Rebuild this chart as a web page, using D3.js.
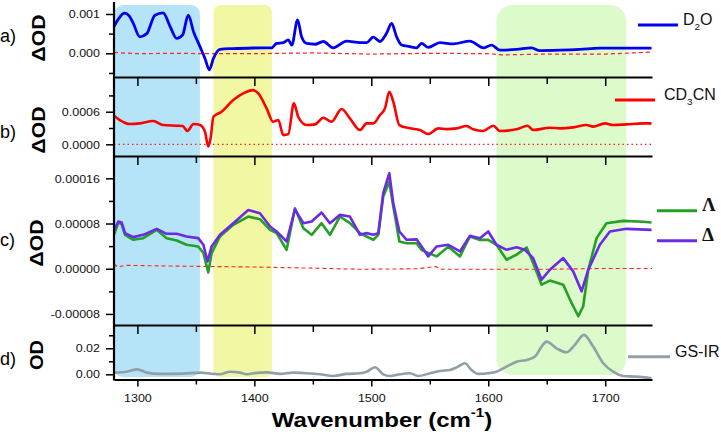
<!DOCTYPE html>
<html><head><meta charset="utf-8">
<script src="https://cdn.jsdelivr.net/npm/d3@7"></script>
<style>
body{margin:0;background:#fff;}
</style></head>
<body><svg id="c" width="721" height="437" font-family="Liberation Sans, Arial, sans-serif"></svg>
<script>
// ---------- data ----------
const xTicks = [1300, 1400, 1500, 1600, 1700];
const xMinorTicks = [1350, 1450, 1550, 1650];
const panelLabels = ["a)", "b)", "c)", "d)"];
const yTitles = ["ΔOD", "ΔOD", "ΔOD", "OD"];
const aTicks = [0.000, 0.001], aMinor = [-0.0005, 0.0005];
const bTicks = [0.0000, 0.0006], bMinor = [0.0003, 0.0009];
const cTicks = [-0.00008, 0.00000, 0.00008, 0.00016], cMinor = [-0.00004, 0.00004, 0.00012];
const dTicks = [0.00, 0.02], dMinor = [0.01, 0.03];
const aTickLabels = ["0.000", "0.001"];
const bTickLabels = ["0.0000", "0.0006"];
const cTickLabels = ["-0.00008", "0.00000", "0.00008", "0.00016"];
const dTickLabels = ["0.00", "0.02"];
const regions = [[1280, 1353.5], [1365, 1415], [1607, 1718]];

const d2o = [[1280,0.00068],[1284,0.00088],[1289,0.00102],[1293,0.00095],[1296.5,0.00076],[1302,0.00042],[1308,0.0005],[1315,0.00097],[1322,0.00103],[1328,0.00068],[1333.6,0.00038],[1338.7,0.00047],[1343.5,0.00097],[1348,0.00055],[1353.5,0.00017],[1357.8,-0.00013],[1361.5,-0.00042],[1365,-0.00013],[1370.6,0.0001],[1382,0.00012],[1399,0.000135],[1414.8,0.00014],[1419,0.00025],[1424.7,0.00027],[1429,0.00034],[1432,0.00021],[1437,0.00085],[1440.4,0.00042],[1444.7,0.00025],[1451.8,0.00023],[1459,0.0003],[1467.5,0.00014],[1478.9,0.00031],[1490.3,0.00027],[1496,0.00027],[1501.7,0.00041],[1507.4,0.0003],[1513,0.00051],[1517.4,0.00076],[1521.6,0.00042],[1525.9,0.00021],[1533,0.00017],[1538.7,0.00014],[1543,0.00025],[1548.7,0.00015],[1558.7,0.00027],[1570,0.00024],[1584.3,0.00031],[1595.7,0.00014],[1602.8,0.00021],[1610,0.00008],[1624.2,0.0001],[1637,0.00014],[1644,0.00007],[1661.2,0.00008],[1678.3,0.0001],[1695.4,0.00013],[1718.2,0.00013],[1739.6,0.00013]];
const d2oRef = [[1280,0.00002],[1300,-0.00001],[1330,0.0],[1360,-0.00001],[1400,-0.00001],[1450,0.00001],[1500,-0.00002],[1550,0.0],[1600,-0.00001],[1612,-0.00004],[1650,-0.00002],[1700,-0.00002],[1740,0.00003]];

const cd3cn = [[1280,0.000527],[1285,0.000447],[1293.7,0.000373],[1302,0.000386],[1313.6,0.000429],[1322,0.000355],[1333.6,0.000343],[1338.7,0.000337],[1342.7,0.000245],[1348,0.000373],[1353.5,0.000355],[1357.8,0.00023],[1360.6,-0.00004],[1362.6,0.00011],[1365,0.000508],[1372,0.0006],[1382,0.000814],[1390.5,0.000937],[1399,0.000998],[1403.4,0.000937],[1410.5,0.00066],[1416,0.000416],[1420.5,0.000447],[1424.7,0.00017],[1429,0.000184],[1433.8,0.000753],[1437.5,0.000508],[1444.7,0.000355],[1451.8,0.000367],[1459,0.00049],[1466,0.000416],[1474.6,0.000649],[1481.7,0.000478],[1490.3,0.000263],[1496,0.000386],[1501.7,0.000386],[1507.4,0.000539],[1511.7,0.000661],[1515.4,0.000967],[1518.8,0.000784],[1524,0.000355],[1533,0.000294],[1541.6,0.000263],[1548.7,0.00019],[1557.3,0.000294],[1564.4,0.00028],[1573,0.000294],[1581.5,0.000337],[1587,0.000276],[1595.7,0.000245],[1604.3,0.000343],[1610,0.000245],[1624.2,0.000276],[1633.6,0.000343],[1638.4,0.000263],[1652.7,0.000306],[1661.2,0.000294],[1672.6,0.000312],[1684,0.000355],[1689.7,0.000325],[1699.7,0.000386],[1706.8,0.000355],[1718.2,0.000367],[1732.5,0.000386],[1739.6,0.000386]];
const cd3cnRef = [[1280,0],[1740,0]];

const lambda = [[1280,0.00006],[1283.7,0.0000818],[1286.5,0.000079],[1289.4,0.00006],[1296.5,0.0000512],[1305,0.000054],[1316.5,0.0000688],[1325,0.0000541],[1333.6,0.00005],[1342,0.0000424],[1352,0.0000394],[1356.4,0.000028],[1360.6,-0.0000065],[1363.5,0.0000276],[1370.6,0.000057],[1382,0.0000776],[1394.8,0.0000924],[1404.8,0.0000876],[1413.4,0.0000688],[1419,0.000063],[1427.6,0.0000335],[1434.7,0.000107],[1441.9,0.0000718],[1449,0.00006],[1457.5,0.0000806],[1464.6,0.00006],[1473.2,0.0000924],[1481.7,0.0000806],[1490.3,0.000063],[1496,0.000057],[1501.7,0.000051],[1506,0.00006],[1510.2,0.000128],[1515.4,0.000154],[1518.8,0.00011],[1524,0.0000482],[1530.2,0.000045],[1538.7,0.000045],[1543,0.000033],[1548.7,0.000028],[1555.8,0.0000218],[1565.8,0.000039],[1575.8,0.0000218],[1584.3,0.000057],[1592.9,0.000051],[1600,0.0000512],[1607,0.0000424],[1615.7,0.0000159],[1624.2,0.000025],[1632.8,0.0000376],[1638.4,0.00001],[1645.6,-0.0000282],[1652.7,-0.000021],[1664.1,-0.0000282],[1671.2,-0.0000606],[1677,-0.0000841],[1681.2,-0.0000665],[1685.5,-0.0000018],[1692.6,0.0000541],[1701.1,0.0000806],[1715.4,0.0000847],[1732.5,0.000083],[1739.6,0.0000818]];
const delta = [[1280,0.0000688],[1283.7,0.0000835],[1286.5,0.0000818],[1289.4,0.0000629],[1296.5,0.0000559],[1305,0.00006],[1316.5,0.0000706],[1325,0.0000618],[1333.6,0.0000618],[1342,0.000057],[1352,0.0000541],[1356.4,0.0000424],[1360,0.0000129],[1363.5,0.0000394],[1370.6,0.00006],[1382,0.0000806],[1394.8,0.000104],[1404.8,0.0000982],[1413.4,0.0000747],[1419,0.0000659],[1427.6,0.0000482],[1434.7,0.000105],[1441.9,0.0000806],[1449,0.0000835],[1457.5,0.0000994],[1464.6,0.0000806],[1473.2,0.0000953],[1481.7,0.0000924],[1490.3,0.00006],[1496,0.000063],[1501.7,0.00006],[1506,0.000063],[1510.2,0.000134],[1515.4,0.000169],[1518.8,0.000116],[1524,0.0000659],[1530.2,0.0000512],[1538.7,0.000052],[1543,0.0000394],[1548.7,0.0000218],[1555.8,0.0000394],[1565.8,0.0000424],[1575.8,0.0000306],[1584.3,0.0000582],[1592.9,0.000054],[1600,0.0000659],[1607,0.0000424],[1615.7,0.0000335],[1624.2,0.000038],[1631.3,0.0000335],[1638.4,0.0000188],[1645.6,-0.0000194],[1652.7,-0.0000018],[1664.1,0.0000188],[1672.6,-0.0000047],[1679.8,-0.00004],[1685.5,-0.0000018],[1695.4,0.0000424],[1704,0.0000659],[1718.2,0.0000706],[1739.6,0.0000688]];
const cRef = [[1280,0.0000088],[1283,0.000003],[1290,0.000006],[1320,0.000005],[1360,0.000004],[1400,0.000003],[1450,0.000001],[1490,-0.000001],[1540,0.0],[1555,0.000004],[1560,-0.000001],[1600,-0.000001],[1650,-0.000001],[1700,0.0000005],[1740,0.0000005]];

const gsir = [[1280,0.0013],[1290.8,0.002],[1300,0.0038],[1308,0.0013],[1319.3,0.0003],[1339,0.0005],[1353.5,0.0013],[1365,0.0003],[1370.6,0.0],[1379,0.002],[1387.7,0.0013],[1393.4,0.0],[1399,0.0008],[1410.5,0.0015],[1422,0.0003],[1433.3,0.0013],[1444.7,0.0008],[1456,0.0],[1467.5,-0.0013],[1478.9,0.0003],[1490.3,0.0008],[1496,0.002],[1503.1,0.0054],[1510.2,0.0],[1516,-0.0013],[1524.5,0.0],[1533,0.0008],[1540.2,-0.0013],[1550.1,0.0008],[1558.7,0.0026],[1567.2,0.0033],[1574.3,0.0059],[1580,0.0085],[1585.7,0.0033],[1591.4,0.0003],[1600,0.0008],[1607.1,0.002],[1615.7,0.0059],[1624.2,0.0097],[1632.8,0.011],[1639.9,0.0136],[1645.6,0.0213],[1649.8,0.0251],[1658.4,0.02],[1667,0.0169],[1674,0.0226],[1681.8,0.0303],[1689.7,0.0213],[1698.3,0.0085],[1706.8,0.002],[1715.4,-0.0013],[1726.8,-0.0018],[1739.6,-0.003]];

// ---------- layout ----------
const svg = d3.select("#c");
const X0 = 114, X1 = 652;
const x = d3.scaleLinear().domain([1280, 1740]).range([X0, X1]);
const panels = [
  {top: 2,   bot: 77,    dom: [-0.000603, 0.001305], ticks: aTicks, labels: aTickLabels, minor: aMinor, lab: [9, 36], tit: [38, 38], titLen: 47},
  {top: 77,  bot: 156,   dom: [-0.000215, 0.001239], ticks: bTicks, labels: bTickLabels, minor: bMinor, lab: [9, 132], tit: [38, 130], titLen: 47},
  {top: 156, bot: 325,   dom: [-0.0000996, 0.0001995], ticks: cTicks, labels: cTickLabels, minor: cMinor, lab: [8, 240], tit: [36, 243], titLen: 47},
  {top: 325, bot: 379.5, dom: [-0.004, 0.0379], ticks: dTicks, labels: dTickLabels, minor: dMinor, lab: [9, 359], tit: [36, 355], titLen: 30}
];
panels.forEach(p => p.y = d3.scaleLinear().domain(p.dom).range([p.bot, p.top]));

// shaded regions
const fills = ["#b5e4f9", "#f1f7a2", "#dcfaca"];
const radii = [9, 7, 16];
const shadeTop = [5, 5, 5], shadeBot = [377, 377, 375];
regions.forEach((r, i) => {
  svg.append("rect")
    .attr("x", x(r[0])).attr("width", x(r[1]) - x(r[0]))
    .attr("y", shadeTop[i]).attr("height", shadeBot[i] - shadeTop[i])
    .attr("rx", radii[i]).attr("ry", radii[i])
    .attr("fill", fills[i]);
});

const TS = "scale(1,0.82)";

// series
function drawLine(p, data, color, width, dash, curve) {
  svg.append("path").datum(data)
    .attr("fill", "none").attr("stroke", color).attr("stroke-width", width)
    .attr("stroke-dasharray", dash || null)
    .attr("stroke-linejoin", "round")
    .attr("d", d3.line().x(d => x(d[0])).y(d => p.y(d[1])).curve(curve || d3.curveLinear));
}
const P = panels;
drawLine(P[0], d2oRef, "#ff2020", 1.2, "4,3");
drawLine(P[0], d2o, "#0000f0", 2.8, null, d3.curveMonotoneX);
drawLine(P[1], cd3cnRef, "#ff2020", 1.2, "1.5,3");
drawLine(P[1], cd3cn, "#ff0000", 2.6, null, d3.curveMonotoneX);
drawLine(P[2], cRef, "#ff2020", 1.1, "4,3");
drawLine(P[2], lambda, "#24a024", 2.6);
drawLine(P[2], delta, "#6a2ae8", 2.6);
drawLine(P[3], gsir, "#8fa0a8", 2.6, null, d3.curveMonotoneX);

// y axes
panels.forEach((p, i) => {
  const g = svg.append("g").attr("transform", `translate(${X0},0)`);
  g.call(d3.axisLeft(p.y).tickValues(p.ticks).tickFormat((d, j) => p.labels[j]).tickSize(8).tickPadding(6));
  g.attr("font-family", null).attr("font-size", null);
  g.select(".domain").remove();
  g.selectAll(".tick line").attr("stroke", "#000").attr("stroke-width", 1.5);
  g.selectAll(".tick text").attr("font-size", 12.5).attr("fill", "#111")
    .attr("dy", "0.36em").attr("transform", TS);
  const gm = svg.append("g").attr("transform", `translate(${X0},0)`);
  gm.call(d3.axisLeft(p.y).tickValues(p.minor).tickFormat("").tickSize(5));
  gm.select(".domain").remove();
  gm.selectAll(".tick line").attr("stroke", "#000").attr("stroke-width", 1.5);

  // panel letter and y title
  svg.append("text").attr("x", 0).attr("y", p.lab[1]).attr("dy", "0.35em")
    .attr("font-size", 18).text(panelLabels[i]);
  svg.append("text").attr("transform", `translate(${p.tit[0]},${p.tit[1]}) rotate(-90)`)
    .attr("text-anchor", "middle").attr("dy", "0.36em")
    .attr("font-size", 19).attr("font-weight", "bold")
    .attr("textLength", p.titLen).attr("lengthAdjust", "spacingAndGlyphs")
    .text(yTitles[i]);
});

// x axes at separators (ticks pointing down)
[77, 156, 325].forEach(yy => {
  const g = svg.append("g").attr("transform", `translate(0,${yy})`);
  g.call(d3.axisBottom(x).tickValues(xTicks).tickFormat("").tickSize(9).tickSizeOuter(0));
  g.select(".domain").attr("stroke-width", 2);
  g.selectAll(".tick line").attr("stroke-width", 1.5);
  const gm = svg.append("g").attr("transform", `translate(0,${yy})`);
  gm.call(d3.axisBottom(x).tickValues(xMinorTicks).tickFormat("").tickSize(7));
  gm.select(".domain").remove();
  gm.selectAll(".tick line").attr("stroke-width", 1.5);
});
// bottom axis
const gb = svg.append("g").attr("transform", "translate(0,379.5)");
gb.call(d3.axisBottom(x).tickValues(xTicks).tickFormat(d3.format("d")).tickSize(7).tickSizeOuter(0));
gb.attr("font-family", null).attr("font-size", null);
gb.select(".domain").attr("stroke-width", 2);
gb.selectAll(".tick line").attr("stroke-width", 1.5);
gb.selectAll(".tick text").attr("font-size", 12.5).attr("fill", "#111")
  .attr("y", 0).attr("dy", 0).attr("transform", "translate(0,22.2) " + TS);
const gbm = svg.append("g").attr("transform", "translate(0,379.5)");
gbm.call(d3.axisBottom(x).tickValues(xMinorTicks).tickFormat("").tickSize(5));
gbm.select(".domain").remove();
gbm.selectAll(".tick line").attr("stroke-width", 1.5);

// left axis line
svg.append("line").attr("x1", X0).attr("x2", X0).attr("y1", 2).attr("y2", 380.5)
  .attr("stroke", "#000").attr("stroke-width", 2.2);

// x title
const tt = svg.append("text").attr("transform", "translate(382,426.5) " + TS)
  .attr("text-anchor", "middle").attr("font-size", 24).attr("font-weight", "bold");
tt.append("tspan").text("Wavenumber (cm");
tt.append("tspan").attr("font-size", 15).attr("dy", -11).text("-1");
tt.append("tspan").attr("dy", 11).text(")");

// legends
function legend(x1, x2, y, color, parts, tx, font, size) {
  svg.append("line").attr("x1", x1).attr("x2", x2).attr("y1", y).attr("y2", y)
    .attr("stroke", color).attr("stroke-width", 3);
  const t = svg.append("text").attr("x", tx).attr("y", y).attr("dy", "0.36em")
    .attr("font-size", size).attr("fill", "#111");
  if (font) t.attr("font-family", font).attr("font-weight", "bold");
  parts.forEach(pt => {
    if (pt.sub) t.append("tspan").attr("font-size", size * 0.62).attr("dy", 5).text(pt.t);
    else t.append("tspan").attr("dy", pt.after ? -5 : 0).text(pt.t);
  });
}
legend(638, 678, 25, "#0000f0", [{t:"D"},{t:"2",sub:true},{t:"O",after:true}], 683, null, 16);
legend(615, 655, 100, "#ff0000", [{t:"CD"},{t:"3",sub:true},{t:"CN",after:true}], 664, null, 16);
legend(657, 697, 210.7, "#24a024", [{t:"Λ"}], 702, "Liberation Serif, DejaVu Serif, serif", 19);
legend(657, 697, 240.7, "#6a2ae8", [{t:"Δ"}], 702, "Liberation Serif, DejaVu Serif, serif", 19);
legend(628, 670, 356.7, "#8fa0a8", [{t:"GS-IR"}], 675, null, 16);
</script></body></html>
